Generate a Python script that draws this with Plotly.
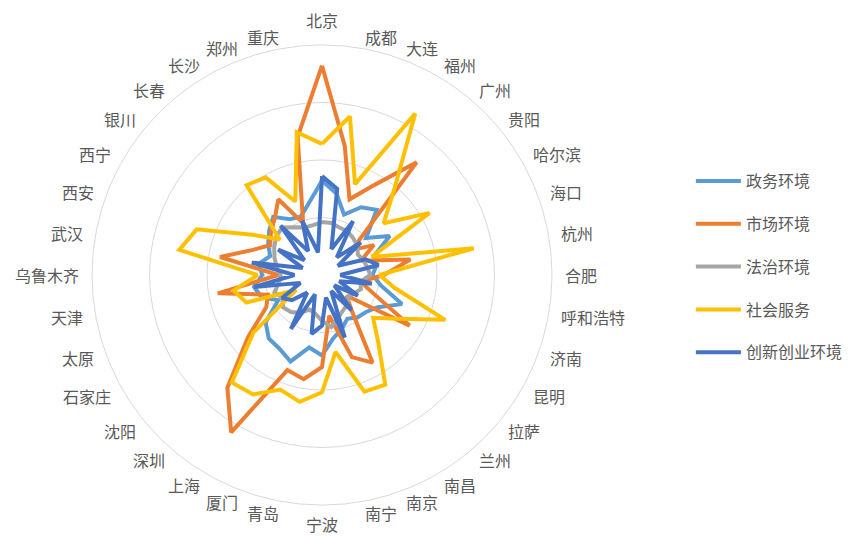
import math
import plotly.graph_objects as go

cities = ["北京", "成都", "大连", "福州", "广州", "贵阳", "哈尔滨", "海口", "杭州", "合肥",
          "呼和浩特", "济南", "昆明", "拉萨", "兰州", "南昌", "南京", "南宁", "宁波", "青岛",
          "厦门", "上海", "深圳", "沈阳", "石家庄", "太原", "天津", "乌鲁木齐", "武汉", "西安",
          "西宁", "银川", "长春", "长沙", "郑州", "重庆"]

gov_env = [41, 36, 28, 34, 37, 25, 34, 24, 24, 22,
           26, 37, 28, 25, 24, 22, 25, 28, 35, 32,
           40, 37, 36, 32, 22, 28, 30, 26, 28, 24,
           27, 30, 33, 28, 27, 32]

market_env = [91, 57, 35, 45, 64, 17, 26, 18, 39, 27,
              17, 24, 44, 14, 20, 44, 38, 18, 40, 46,
              44, 79, 64, 42, 28, 25, 46, 19, 45, 32,
              26, 29, 32, 38, 24, 61]

law_env = [23, 23, 22, 22, 21, 20, 18, 19, 20, 21,
           17, 18, 16, 15, 17, 18, 20, 23, 20, 17,
           16, 19, 21, 22, 20, 22, 19, 18, 20, 22,
           24, 26, 27, 24, 22, 22]

social_srv = [57, 70, 42, 81, 49, 35, 54, 23, 67, 25,
              32, 57, 38, 29, 38, 55, 54, 34, 51, 56,
              53, 60, 61, 39, 13, 35, 39, 28, 63, 58,
              35, 24, 51, 49, 34, 63]

innov_env = [43, 38, 12, 27, 10, 22, 8, 20, 25, 8,
             22, 8, 18, 7, 20, 8, 29, 10, 22, 26,
             9, 27, 10, 17, 20, 10, 30, 12, 31, 9,
             22, 10, 28, 12, 25, 10]

series_names = ["政务环境", "市场环境", "法治环境", "社会服务", "创新创业环境"]
series_values = [gov_env, market_env, law_env, social_srv, innov_env]
colors = ["#5B9BD5", "#ED7D31", "#A5A5A5", "#FFC000", "#4472C4"]

font_family = "Noto Sans CJK SC, Noto Sans, sans-serif"
W, H = 854, 538
dom_x = [92 / W, 552 / W]
dom_y = [1 - 505 / H, 1 - 45 / H]

fig = go.Figure()
for name, vals, col in zip(series_names, series_values, colors):
    fig.add_trace(go.Scatterpolar(
        r=vals + vals[:1],
        theta=cities + cities[:1],
        mode="lines",
        name=name,
        legendgroup=name,
        line=dict(color=col, width=4),
    ))

# category labels placed around the circle (Excel-style anchoring)
cx = (dom_x[0] + dom_x[1]) / 2 * W
cy = (1 - (dom_y[0] + dom_y[1]) / 2) * H
radius_px = (dom_x[1] - dom_x[0]) * W / 2
n = len(cities)
annotations = []
for i, c in enumerate(cities):
    ang = 2 * math.pi * i / n
    s, co = math.sin(ang), math.cos(ang)
    if abs(s) < 1e-6:
        xa = "center"
        if co > 0:
            ya, label_r = "bottom", radius_px + 12
        else:
            ya, label_r = "top", radius_px + 6
    else:
        xa = "left" if s > 0 else "right"
        ya = "middle"
        label_r = radius_px + 12
    px = cx + label_r * s
    py = cy - label_r * co
    annotations.append(dict(
        x=px / W, y=1 - py / H, xref="paper", yref="paper",
        text=c, showarrow=False, xanchor=xa, yanchor=ya,
        font=dict(size=16, color="#595959", family=font_family),
        borderpad=0,
    ))

fig.update_layout(
    width=W, height=H,
    margin=dict(l=0, r=0, t=0, b=0),
    paper_bgcolor="white",
    plot_bgcolor="white",
    font=dict(family=font_family, size=16, color="#595959"),
    annotations=annotations,
    polar=dict(
        domain=dict(x=dom_x, y=dom_y),
        bgcolor="white",
        angularaxis=dict(
            rotation=90, direction="clockwise",
            showgrid=False, showline=True, linecolor="#D9D9D9", linewidth=1,
            ticks="", showticklabels=False,
        ),
        radialaxis=dict(
            range=[0, 100], tickvals=[25, 50, 75, 100],
            showticklabels=False, ticks="", showline=False,
            gridcolor="#D9D9D9", gridwidth=1,
        ),
    ),
    legend=dict(
        x=0.809, y=0.695, xanchor="left", yanchor="top",
        font=dict(size=16, color="#595959", family=font_family),
        tracegroupgap=19,
        itemwidth=45,
        bgcolor="rgba(0,0,0,0)",
    ),
    showlegend=True,
)

fig.write_html("out.html")
